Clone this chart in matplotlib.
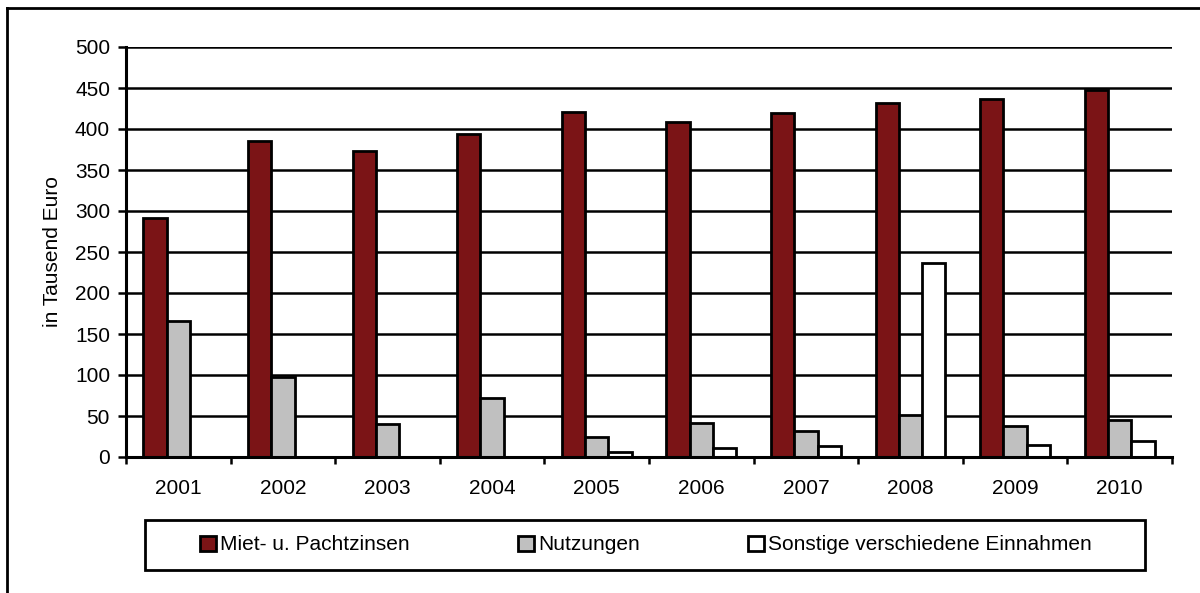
import numpy as np
import matplotlib.pyplot as plt
from matplotlib.lines import Line2D
from matplotlib.patches import Rectangle

plt.rcParams['font.family'] = ['Liberation Sans', 'DejaVu Sans']

jahre = ['2001', '2002', '2003', '2004', '2005', '2006', '2007', '2008', '2009', '2010']
miete = [291, 385, 373, 394, 421, 408, 419, 432, 437, 448]
nutzungen = [166, 98, 40, 72, 24, 41, 32, 51, 38, 45]
sonstige = [0, 0, 0, 0, 6, 11, 14, 236, 15, 19]

serien = ['Miet- u. Pachtzinsen', 'Nutzungen', 'Sonstige verschiedene Einnahmen']
farben = ['#7b1416', '#c0c0c0', '#ffffff']

W, H = 1200, 593
fs = 15

fig = plt.figure(figsize=(W / 100, H / 100), dpi=100)
ax = fig.add_axes([126 / W, 1 - 457 / H, (1172 - 126) / W, (457 - 47) / H])

x = np.arange(len(jahre))
w = 1 / 4.5
handles = []
for i, (werte, farbe, name) in enumerate(zip([miete, nutzungen, sonstige], farben, serien)):
    werte = np.array(werte, dtype=float)
    pos = x + (i - 1) * w
    mask = werte > 0
    ax.bar(pos[mask], werte[mask], width=w, color=farbe, edgecolor='black',
           linewidth=2, zorder=3)
    handles.append(Rectangle((0, 0), 1, 1, facecolor=farbe, edgecolor='black', linewidth=2))

ax.set_xlim(-0.5, len(jahre) - 0.5)
ax.set_ylim(0, 500)
ax.set_yticks(np.arange(0, 501, 50))
ax.yaxis.grid(True, color='black', linewidth=1.8, zorder=0)
ax.set_axisbelow(True)

ax.set_xticks(x)
ax.set_xticklabels(jahre)
ax.set_xticks(np.arange(-0.5, len(jahre), 1), minor=True)
ax.tick_params(axis='x', which='major', length=0, pad=16, labelsize=fs)
ax.tick_params(axis='x', which='minor', length=5, width=1.8, direction='out')
ax.tick_params(axis='y', length=5.5, width=1.8, direction='out', labelsize=fs, pad=6)

for s in ['top', 'right']:
    ax.spines[s].set_visible(False)
ax.spines['left'].set_linewidth(2.2)
ax.spines['bottom'].set_linewidth(2.2)
ax.spines['bottom'].set_zorder(4)

ax.set_ylabel('in Tausend Euro', fontsize=fs, labelpad=9)

# Legende mit eigenem Rahmen
fig.add_artist(Rectangle((145 / W, 1 - 570 / H), (1145 - 145) / W, 50 / H,
                         transform=fig.transFigure, facecolor='white', edgecolor='black',
                         linewidth=2, zorder=1))
leg = fig.legend(handles, serien, loc='center', ncol=3,
                 bbox_to_anchor=(646 / W, 1 - 545 / H),
                 fontsize=fs, frameon=False, handlelength=0.75, handleheight=0.75,
                 handletextpad=0.2, columnspacing=5.2)
leg.set_zorder(2)

# Rahmen oben und links
fig.add_artist(Line2D([7 / W, 1], [1 - 8 / H, 1 - 8 / H], color='black', linewidth=2,
                      transform=fig.transFigure))
fig.add_artist(Line2D([7 / W, 7 / W], [0, 1 - 8 / H], color='black', linewidth=2,
                      transform=fig.transFigure))

fig.savefig('out.png', dpi=100)
